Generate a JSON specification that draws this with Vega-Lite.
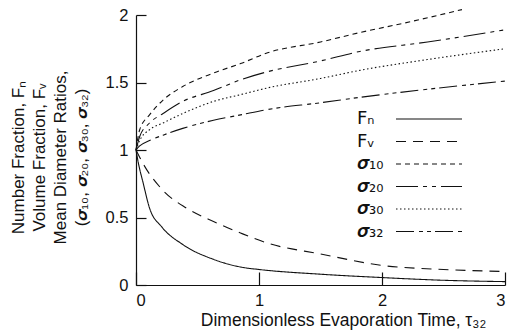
{
  "$schema": "https://vega.github.io/schema/vega-lite/v6.json",
  "autosize": {"type": "none"},
  "padding": {"left": 136, "top": 15, "right": 6, "bottom": 48},
  "width": 369,
  "height": 270,
  "background": "white",
  "config": {
    "view": {"stroke": null},
    "font": "Liberation Sans",
    "axis": {"grid": false, "domainColor": "#111", "tickColor": "#111", "labelColor": "#111", "titleColor": "#111", "titleFontWeight": "normal", "domainWidth": 1.2, "tickWidth": 1.2}
  },
  "data": {
    "values": [
      {"s": "Fₙ", "t": 0, "v": 1}, {"s": "Fₙ", "t": 0.02, "v": 0.9}, {"s": "Fₙ", "t": 0.057, "v": 0.76}, {"s": "Fₙ", "t": 0.11, "v": 0.57}, {"s": "Fₙ", "t": 0.21, "v": 0.43}, {"s": "Fₙ", "t": 0.38, "v": 0.3}, {"s": "Fₙ", "t": 0.63, "v": 0.19}, {"s": "Fₙ", "t": 0.87, "v": 0.13}, {"s": "Fₙ", "t": 1, "v": 0.115}, {"s": "Fₙ", "t": 1.5, "v": 0.08}, {"s": "Fₙ", "t": 2, "v": 0.055}, {"s": "Fₙ", "t": 2.5, "v": 0.035}, {"s": "Fₙ", "t": 3, "v": 0.025},
      {"s": "Fᵥ", "t": 0, "v": 1}, {"s": "Fᵥ", "t": 0.057, "v": 0.9}, {"s": "Fᵥ", "t": 0.22, "v": 0.7}, {"s": "Fᵥ", "t": 0.41, "v": 0.57}, {"s": "Fᵥ", "t": 0.63, "v": 0.47}, {"s": "Fᵥ", "t": 0.85, "v": 0.385}, {"s": "Fᵥ", "t": 1.07, "v": 0.31}, {"s": "Fᵥ", "t": 1.5, "v": 0.23}, {"s": "Fᵥ", "t": 2, "v": 0.145}, {"s": "Fᵥ", "t": 2.5, "v": 0.115}, {"s": "Fᵥ", "t": 3, "v": 0.1},
      {"s": "𝝈₁₀", "t": 0, "v": 1}, {"s": "𝝈₁₀", "t": 0.03, "v": 1.15}, {"s": "𝝈₁₀", "t": 0.11, "v": 1.26}, {"s": "𝝈₁₀", "t": 0.22, "v": 1.37}, {"s": "𝝈₁₀", "t": 0.38, "v": 1.47}, {"s": "𝝈₁₀", "t": 0.63, "v": 1.57}, {"s": "𝝈₁₀", "t": 0.85, "v": 1.64}, {"s": "𝝈₁₀", "t": 1.07, "v": 1.72}, {"s": "𝝈₁₀", "t": 1.5, "v": 1.8}, {"s": "𝝈₁₀", "t": 1.82, "v": 1.87}, {"s": "𝝈₁₀", "t": 2.23, "v": 1.95}, {"s": "𝝈₁₀", "t": 2.65, "v": 2.04},
      {"s": "𝝈₂₀", "t": 0, "v": 1}, {"s": "𝝈₂₀", "t": 0.03, "v": 1.1}, {"s": "𝝈₂₀", "t": 0.11, "v": 1.2}, {"s": "𝝈₂₀", "t": 0.22, "v": 1.27}, {"s": "𝝈₂₀", "t": 0.38, "v": 1.36}, {"s": "𝝈₂₀", "t": 0.63, "v": 1.44}, {"s": "𝝈₂₀", "t": 0.85, "v": 1.52}, {"s": "𝝈₂₀", "t": 1.07, "v": 1.58}, {"s": "𝝈₂₀", "t": 1.5, "v": 1.66}, {"s": "𝝈₂₀", "t": 1.82, "v": 1.73}, {"s": "𝝈₂₀", "t": 2.37, "v": 1.8}, {"s": "𝝈₂₀", "t": 3, "v": 1.89},
      {"s": "𝝈₃₀", "t": 0, "v": 1}, {"s": "𝝈₃₀", "t": 0.03, "v": 1.07}, {"s": "𝝈₃₀", "t": 0.11, "v": 1.15}, {"s": "𝝈₃₀", "t": 0.22, "v": 1.2}, {"s": "𝝈₃₀", "t": 0.38, "v": 1.27}, {"s": "𝝈₃₀", "t": 0.63, "v": 1.36}, {"s": "𝝈₃₀", "t": 0.85, "v": 1.41}, {"s": "𝝈₃₀", "t": 1.07, "v": 1.46}, {"s": "𝝈₃₀", "t": 1.5, "v": 1.53}, {"s": "𝝈₃₀", "t": 1.82, "v": 1.59}, {"s": "𝝈₃₀", "t": 2.37, "v": 1.67}, {"s": "𝝈₃₀", "t": 3, "v": 1.75},
      {"s": "𝝈₃₂", "t": 0, "v": 1}, {"s": "𝝈₃₂", "t": 0.03, "v": 1.03}, {"s": "𝝈₃₂", "t": 0.11, "v": 1.07}, {"s": "𝝈₃₂", "t": 0.22, "v": 1.11}, {"s": "𝝈₃₂", "t": 0.38, "v": 1.16}, {"s": "𝝈₃₂", "t": 0.63, "v": 1.22}, {"s": "𝝈₃₂", "t": 0.85, "v": 1.26}, {"s": "𝝈₃₂", "t": 1.07, "v": 1.3}, {"s": "𝝈₃₂", "t": 1.5, "v": 1.35}, {"s": "𝝈₃₂", "t": 1.82, "v": 1.39}, {"s": "𝝈₃₂", "t": 2.37, "v": 1.45}, {"s": "𝝈₃₂", "t": 3, "v": 1.51}
    ]
  },
  "mark": {"type": "line", "color": "#111", "strokeWidth": 1.1, "interpolate": "monotone", "clip": false},
  "encoding": {
    "x": {
      "field": "t", "type": "quantitative",
      "scale": {"domain": [0, 3], "nice": false},
      "axis": {"values": [0, 1, 2, 3], "format": "d", "tickSize": -13, "labelPadding": 20, "labelFontSize": 16.5, "title": "Dimensionless Evaporation Time, τ₃₂", "titleFontSize": 17.5, "titleX": 207, "titlePadding": 3}
    },
    "y": {
      "field": "v", "type": "quantitative",
      "scale": {"domain": [0, 2], "nice": false},
      "axis": {"values": [0, 0.5, 1, 1.5, 2], "format": "~g", "tickSize": -10, "labelPadding": 18, "labelFontSize": 16.5, "title": ["Number Fraction, Fₙ", "Volume Fraction, Fᵥ", "Mean Diameter Ratios,", "(𝝈₁₀, 𝝈₂₀, 𝝈₃₀, 𝝈₃₂)"], "titleFontSize": 17, "titleLineHeight": 21, "titlePadding": 15, "titleY": 142}
    },
    "strokeDash": {
      "field": "s", "type": "nominal",
      "scale": {"domain": ["Fₙ", "Fᵥ", "𝝈₁₀", "𝝈₂₀", "𝝈₃₀", "𝝈₃₂"], "range": [[1, 0], [10, 7], [5, 4], [22, 5, 4, 5, 4, 5], [1.5, 2.5], [18, 5, 4, 4, 4, 4]]},
      "legend": {
        "title": null, "orient": "none", "legendX": 281, "legendY": 92,
        "symbolType": "M-3,0H3", "symbolSize": 484, "symbolStrokeWidth": 1.1, "symbolStrokeColor": "#111", "symbolFillColor": "transparent",
        "labelFont": "DejaVu Sans", "labelFontSize": 18, "labelColor": "#111", "rowPadding": 1.5, "padding": 0,
        "encode": {"labels": {"update": {"x": {"value": -60}}}}
      }
    }
  }
}
